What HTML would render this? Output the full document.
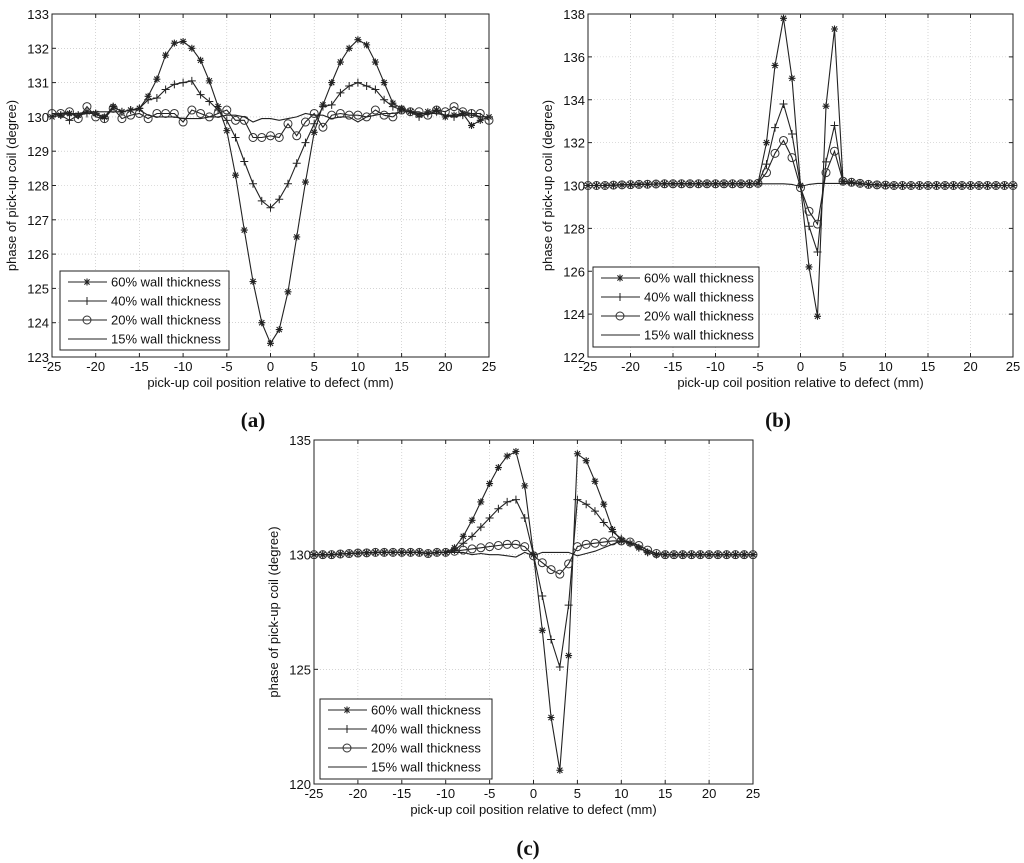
<!DOCTYPE html>
<html><head><meta charset="utf-8">
<style>
html,body{margin:0;padding:0;background:#fff;}
svg{display:block;font-family:"Liberation Sans",Arial,sans-serif;}
</style></head>
<body>
<svg id="fig" width="1024" height="863" viewBox="0 0 1024 863" xmlns="http://www.w3.org/2000/svg"></svg>
<script>
// shared x positions (mm)
const xPositions = [-25,-24,-23,-22,-21,-20,-19,-18,-17,-16,-15,-14,-13,-12,-11,-10,-9,-8,-7,-6,-5,-4,-3,-2,-1,0,1,2,3,4,5,6,7,8,9,10,11,12,13,14,15,16,17,18,19,20,21,22,23,24,25];
const xTicks = [-25,-20,-15,-10,-5,0,5,10,15,20,25];
const seriesNames = ["60% wall thickness","40% wall thickness","20% wall thickness","15% wall thickness"];

// panel (a)
const a60 = [130.0,130.05,130.1,130.05,130.15,130.1,130.0,130.3,130.15,130.2,130.25,130.6,131.1,131.8,132.15,132.2,132.0,131.65,131.05,130.3,129.6,128.3,126.7,125.2,124.0,123.4,123.8,124.9,126.5,128.1,129.55,130.35,131.0,131.6,132.0,132.25,132.1,131.6,131.0,130.4,130.25,130.15,130.05,130.15,130.2,130.0,130.05,130.1,129.75,129.9,130.0];
const a40 = [130.0,130.05,129.9,130.05,130.1,130.1,129.95,130.3,130.15,130.2,130.25,130.5,130.55,130.8,130.95,131.0,131.05,130.65,130.45,130.2,129.9,129.4,128.7,128.05,127.55,127.35,127.6,128.05,128.65,129.25,129.8,130.3,130.35,130.7,130.9,131.0,130.9,130.8,130.5,130.3,130.2,130.15,130.0,130.1,130.15,130.05,130.0,130.05,130.1,130.0,130.0];
const a20 = [130.1,130.1,130.15,129.95,130.3,130.0,129.95,130.25,129.95,130.05,130.1,129.95,130.1,130.1,130.1,129.85,130.2,130.1,130.0,130.1,130.2,129.9,129.9,129.4,129.4,129.45,129.4,129.8,129.45,129.85,130.1,129.7,130.05,130.1,130.05,130.05,130.0,130.2,130.05,130.0,130.2,130.15,130.15,130.05,130.2,130.15,130.3,130.15,130.1,130.1,129.9];
const a15 = [130.05,130.1,130.1,130.1,130.15,130.15,130.15,130.15,130.15,130.2,130.2,130.05,130.0,130.0,130.0,129.95,129.95,129.95,130.0,130.0,130.05,130.05,130.0,129.85,129.95,129.95,129.9,129.95,130.0,130.1,130.05,130.05,129.95,130.0,130.0,129.85,130.0,130.05,130.1,130.1,130.15,130.15,130.1,130.1,130.1,130.05,130.05,130.05,130.05,130.0,130.0];
const aYTicks = [123,124,125,126,127,128,129,130,131,132,133];

// panel (b)
const b60 = [130.0,130.0,130.0,130.02,130.03,130.04,130.05,130.06,130.07,130.08,130.08,130.08,130.08,130.08,130.08,130.08,130.08,130.08,130.08,130.08,130.1,132.0,135.6,137.8,135.0,130.0,126.2,123.9,133.7,137.3,130.2,130.15,130.1,130.05,130.03,130.02,130.0,130.0,130.0,130.0,130.0,130.0,130.0,130.0,130.0,130.0,130.0,130.0,130.0,130.0,130.0];
const b40 = [130.0,130.0,130.0,130.02,130.03,130.04,130.05,130.06,130.07,130.08,130.08,130.08,130.08,130.08,130.08,130.08,130.08,130.08,130.08,130.08,130.1,131.0,132.7,133.8,132.4,130.0,128.1,126.9,131.1,132.8,130.2,130.15,130.1,130.05,130.03,130.02,130.0,130.0,130.0,130.0,130.0,130.0,130.0,130.0,130.0,130.0,130.0,130.0,130.0,130.0,130.0];
const b20 = [130.0,130.0,130.0,130.02,130.03,130.04,130.05,130.06,130.07,130.08,130.08,130.08,130.08,130.08,130.08,130.08,130.08,130.08,130.08,130.08,130.1,130.6,131.5,132.1,131.3,129.9,128.8,128.2,130.6,131.6,130.2,130.15,130.1,130.05,130.03,130.02,130.0,130.0,130.0,130.0,130.0,130.0,130.0,130.0,130.0,130.0,130.0,130.0,130.0,130.0,130.0];
const b15 = [130.0,130.0,130.0,130.02,130.03,130.04,130.05,130.06,130.07,130.08,130.08,130.08,130.08,130.08,130.08,130.08,130.08,130.08,130.08,130.08,130.08,130.08,130.08,130.08,130.05,129.95,130.05,130.1,130.1,130.1,130.1,130.1,130.08,130.05,130.03,130.02,130.0,130.0,130.0,130.0,130.0,130.0,130.0,130.0,130.0,130.0,130.0,130.0,130.0,130.0,130.0];
const bYTicks = [122,124,126,128,130,132,134,136,138];

// panel (c)
const c60 = [130.0,130.0,130.0,130.03,130.05,130.07,130.08,130.1,130.1,130.1,130.1,130.1,130.1,130.05,130.1,130.1,130.3,130.8,131.5,132.3,133.1,133.8,134.3,134.5,133.0,130.0,126.7,122.9,120.6,125.6,134.4,134.1,133.2,132.2,131.1,130.6,130.5,130.3,130.1,130.0,130.0,130.0,130.0,130.0,130.0,130.0,130.0,130.0,130.0,130.0,130.0];
const c40 = [130.0,130.0,130.0,130.03,130.05,130.07,130.08,130.1,130.1,130.1,130.1,130.1,130.1,130.05,130.1,130.1,130.2,130.5,130.8,131.2,131.6,132.0,132.3,132.4,131.6,130.0,128.2,126.3,125.1,127.8,132.4,132.2,131.9,131.4,131.0,130.7,130.5,130.3,130.1,130.0,130.0,130.0,130.0,130.0,130.0,130.0,130.0,130.0,130.0,130.0,130.0];
const c20 = [130.0,130.0,130.0,130.03,130.05,130.07,130.08,130.1,130.1,130.1,130.1,130.1,130.1,130.05,130.1,130.1,130.15,130.2,130.25,130.3,130.35,130.4,130.45,130.45,130.35,129.95,129.65,129.35,129.15,129.6,130.35,130.45,130.5,130.55,130.6,130.6,130.55,130.4,130.2,130.05,130.0,130.0,130.0,130.0,130.0,130.0,130.0,130.0,130.0,130.0,130.0];
const c15 = [130.0,130.0,130.0,130.03,130.05,130.07,130.08,130.1,130.1,130.1,130.1,130.1,130.1,130.05,130.1,130.1,130.1,130.1,130.0,130.05,130.0,130.0,129.95,129.9,130.1,129.95,130.1,130.1,130.1,130.1,129.95,130.05,130.15,130.3,130.45,130.6,130.55,130.4,130.2,130.05,130.0,130.0,130.0,130.0,130.0,130.0,130.0,130.0,130.0,130.0,130.0];
const cYTicks = [120,125,130,135];

const NS = "http://www.w3.org/2000/svg";
const svg = document.getElementById('fig');
function mk(tag, attrs, parent){
  const e = document.createElementNS(NS, tag);
  for (const k in attrs) e.setAttribute(k, attrs[k]);
  (parent||svg).appendChild(e);
  return e;
}
function marker(g, kind, x, y){
  if (kind === 'star'){
    const p = mk('path', {d:`M${x-3.5},${y}H${x+3.5}M${x},${y-3.5}V${y+3.5}M${x-2.6},${y-2.6}L${x+2.6},${y+2.6}M${x-2.6},${y+2.6}L${x+2.6},${y-2.6}`, stroke:'#222','stroke-width':1.1, fill:'none'}, g);
    
    
  } else if (kind === 'plus'){
    const p = mk('path', {d:`M${x-4},${y}H${x+4}M${x},${y-4}V${y+4}`, stroke:'#222','stroke-width':1.0, fill:'none'}, g);
    
    
  } else if (kind === 'circle'){
    const p = mk('circle', {cx:x, cy:y, r:4, stroke:'#333','stroke-width':1.0, fill:'none'}, g);
    
    
  }
}
function panel(id, box, ymin, ymax, yTicks, series, legend, label){
  const g = mk('g', {});
  
  
  const X = v => box.l + (v + 25) / 50 * (box.r - box.l);
  const Y = v => box.b - (v - ymin) / (ymax - ymin) * (box.b - box.t);
  mk('rect', {x:box.l, y:box.t, width:box.r-box.l, height:box.b-box.t, fill:'#fff'}, g);
  xTicks.forEach(t => {
    const l = mk('line', {x1:X(t), x2:X(t), y1:box.t, y2:box.b, stroke:'#bbb', 'stroke-width':0.6, 'stroke-dasharray':'1,2'}, g);
    
    
    mk('line', {x1:X(t), x2:X(t), y1:box.b, y2:box.b-4, stroke:'#222'}, g);
    mk('line', {x1:X(t), x2:X(t), y1:box.t, y2:box.t+4, stroke:'#222'}, g);
    const tx = mk('text', {x:X(t), y:box.b+14, 'font-size':13, 'text-anchor':'middle', fill:'#111'}, g);
    tx.textContent = t;
    
    
  });
  yTicks.forEach(t => {
    const l = mk('line', {x1:box.l, x2:box.r, y1:Y(t), y2:Y(t), stroke:'#bbb', 'stroke-width':0.6, 'stroke-dasharray':'1,2'}, g);
    
    
    mk('line', {x1:box.l, x2:box.l+4, y1:Y(t), y2:Y(t), stroke:'#222'}, g);
    mk('line', {x1:box.r, x2:box.r-4, y1:Y(t), y2:Y(t), stroke:'#222'}, g);
    const tx = mk('text', {x:box.l-3, y:Y(t)+5, 'font-size':13, 'text-anchor':'end', fill:'#111'}, g);
    tx.textContent = t;
    
    
  });
  const fr = mk('rect', {x:box.l, y:box.t, width:box.r-box.l, height:box.b-box.t, fill:'none', stroke:'#222', 'stroke-width':1}, g);
  
  
  const kinds = ['star','plus','circle',null];
  series.forEach((vals, si) => {
    const sg = mk('g', {}, g);
    
    
    const d = vals.map((v,i) => (i?'L':'M') + X(xPositions[i]).toFixed(1) + ',' + Y(v).toFixed(1)).join('');
    mk('path', {d:d, fill:'none', stroke:'#222', 'stroke-width':1.1}, sg);
    if (kinds[si]) vals.forEach((v,i) => marker(sg, kinds[si], X(xPositions[i]), Y(v)));
  });
  const xt = mk('text', {x:(box.l+box.r)/2, y:box.b+30, 'font-size':13, 'text-anchor':'middle', fill:'#111'}, g);
  xt.textContent = 'pick-up coil position relative to defect (mm)';
  
  
  const yc = (box.t+box.b)/2;
  const yt = mk('text', {x:box.l-36, y:yc, 'font-size':13, 'text-anchor':'middle', fill:'#111', transform:`rotate(-90 ${box.l-36} ${yc})`}, g);
  yt.textContent = 'phase of pick-up coil (degree)';
  
  
  const lg = mk('g', {}, g);
  
  
  mk('rect', {x:legend.x, y:legend.y, width:legend.w, height:legend.h, fill:'#fff', stroke:'#222', 'stroke-width':1}, lg);
  seriesNames.forEach((n, i) => {
    const yy = legend.y + 11 + i * 19;
    const e = mk('g', {}, lg);
    
    
    mk('line', {x1:legend.x+8, x2:legend.x+47, y1:yy, y2:yy, stroke:'#222', 'stroke-width':1.0}, e);
    if (kinds[i]) marker(e, kinds[i], legend.x+27, yy);
    const t = mk('text', {x:legend.x+51, y:yy+4.5, 'font-size':13, fill:'#111'}, e);
    t.textContent = n;
  });
  const pl = mk('text', {x:label.x, y:label.y, 'font-size':21, 'font-weight':'bold', 'text-anchor':'middle', fill:'#111', 'font-family':'"Liberation Serif",serif'}, g);
  pl.textContent = label.t;
  
  
}
panel('a', {l:52,r:489,t:14,b:357}, 123, 133, aYTicks, [a60,a40,a20,a15], {x:60,y:271,w:169,h:79}, {x:253,y:427,t:'(a)'});
panel('b', {l:588,r:1013,t:14,b:357}, 122, 138, bYTicks, [b60,b40,b20,b15], {x:593,y:267,w:166,h:80}, {x:778,y:427,t:'(b)'});
panel('c', {l:314,r:753,t:440,b:784}, 120, 135, cYTicks, [c60,c40,c20,c15], {x:320,y:699,w:172,h:80}, {x:528,y:855,t:'(c)'});
</script>
</body></html>
